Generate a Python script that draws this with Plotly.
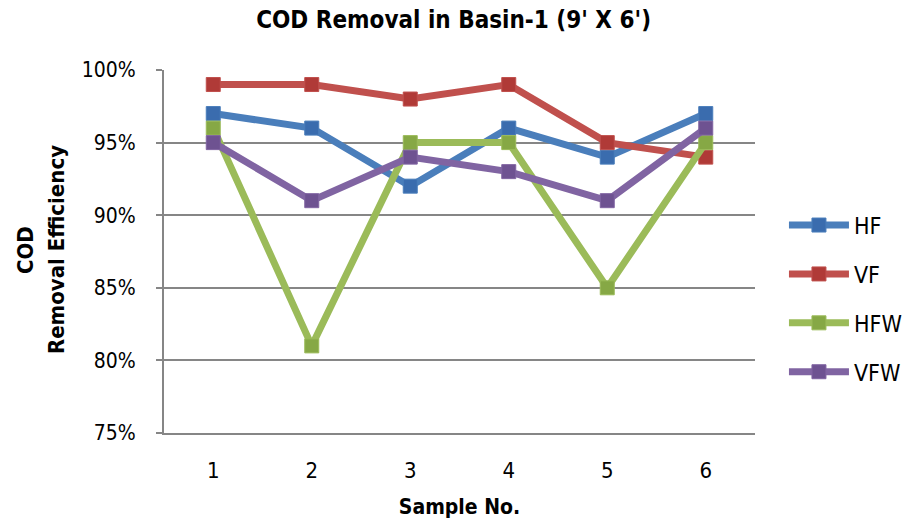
import plotly.graph_objects as go

# Sample numbers and COD removal efficiency (fraction) for each filter type
samples = [1, 2, 3, 4, 5, 6]
hf = [0.97, 0.96, 0.92, 0.96, 0.94, 0.97]
vf = [0.99, 0.99, 0.98, 0.99, 0.95, 0.94]
hfw = [0.96, 0.81, 0.95, 0.95, 0.85, 0.95]
vfw = [0.95, 0.91, 0.94, 0.93, 0.91, 0.96]

series = [
    ("HF", hf, "#4A7EBB", "#3A6CAE"),
    ("VF", vf, "#C0504D", "#B03A37"),
    ("HFW", hfw, "#9BBB59", "#86A845"),
    ("VFW", vfw, "#8064A2", "#6E5291"),
]

FONT = "DejaVu Sans Condensed, Liberation Sans Narrow, Arial Narrow, sans-serif"

fig = go.Figure()
for name, vals, line_col, mark_col in series:
    fig.add_trace(go.Scatter(
        x=samples, y=vals, name=name, mode="lines+markers",
        legendgroup=name,
        line=dict(color=line_col, width=7),
        marker=dict(symbol="square", size=14, color=mark_col,
                    line=dict(color=line_col, width=1)),
    ))

fig.update_layout(
    width=907, height=524,
    margin=dict(l=164, r=152, t=70, b=91, autoexpand=False),
    paper_bgcolor="white", plot_bgcolor="white",
    title=dict(text="<b>COD Removal in Basin-1 (9' X 6')</b>",
               x=0.49, xref="paper", y=0.962, yref="container",
               xanchor="center", yanchor="middle",
               font=dict(family=FONT, size=24, color="#000")),
    font=dict(family=FONT, color="#000"),
    showlegend=True,
    legend=dict(x=1.049, xanchor="left", y=0.632, yanchor="top",
                itemwidth=60,
                font=dict(family=FONT, size=23, color="#000"),
                tracegroupgap=16, bgcolor="rgba(0,0,0,0)"),
    xaxis=dict(range=[0.5, 6.5], tickmode="array", tickvals=samples,
               ticktext=[str(s) for s in samples],
               showgrid=False, zeroline=False,
               showline=True, linecolor="#868686", linewidth=2,
               ticks="", tickfont=dict(family=FONT, size=22, color="#000"),
               ticklabelstandoff=17,
               title=dict(text="<b>Sample No.</b>", standoff=17,
                          font=dict(family=FONT, size=21, color="#000"))),
    yaxis=dict(range=[0.75, 1.0], dtick=0.05, tickformat=".0%",
               showgrid=True, gridcolor="#868686", gridwidth=2,
               zeroline=False, showline=True, linecolor="#868686",
               linewidth=2, ticks="outside", ticklen=6, tickcolor="#868686",
               tickwidth=2,
               tickfont=dict(family=FONT, size=21, color="#000"),
               ticklabelstandoff=16),
)

# Two-line vertical axis title
for txt, px in [("<b>COD</b>", 25), ("<b>Removal Efficiency</b>", 56)]:
    fig.add_annotation(
        text=txt, textangle=-90,
        xref="paper", yref="paper", x=(px - 164) / 591, y=0.504,
        xanchor="center", yanchor="middle", showarrow=False,
        font=dict(family=FONT, size=22, color="#000"),
    )

fig.write_html("out.html")
